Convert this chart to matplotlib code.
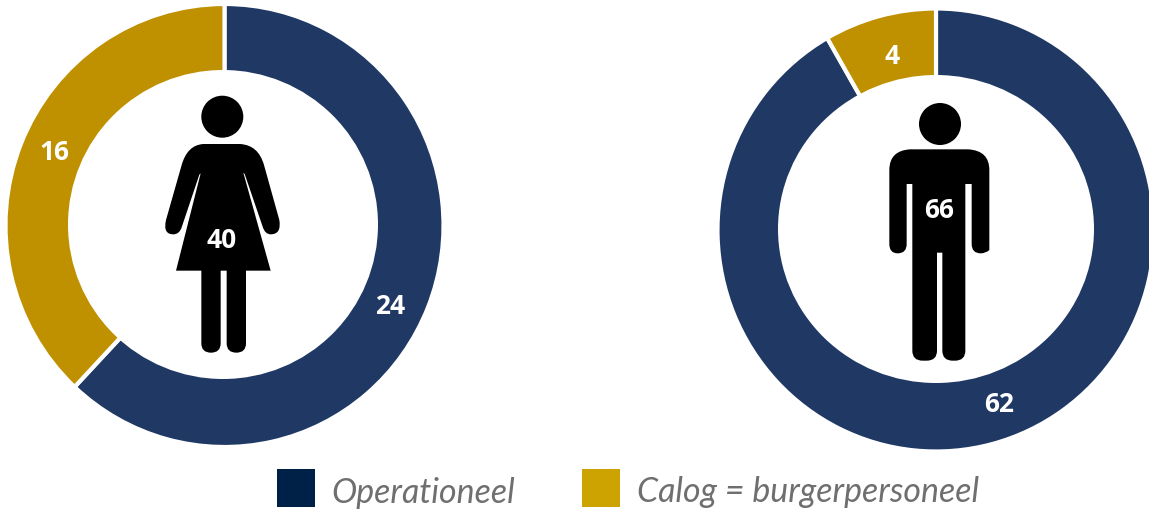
import matplotlib
matplotlib.use("Agg")
import matplotlib.pyplot as plt
from matplotlib.patches import Circle, Ellipse, PathPatch, Rectangle
from matplotlib.path import Path

W, H = 1149, 509

# labels as printed, arc shares as measured off the rings
women_labels = ["24", "16"]
women_shares = [62.0, 38.0]
men_labels = ["62", "4"]
men_shares = [91.7, 8.3]
women_total = "40"
men_total = "66"
legend_names = ["Operationeel", "Calog = burgerpersoneel"]

NAVY, GOLD = "#1F3864", "#BF9000"
LEG_NAVY, LEG_GOLD = "#002147", "#CCA300"

fig = plt.figure(figsize=(W / 100, H / 100), dpi=100)


def donut(cx, cy, rx, ry, shares):
    ax = fig.add_axes([(cx - rx) / W, 1 - (cy + ry) / H, 2 * rx / W, 2 * ry / H])
    ax.pie(shares, colors=[NAVY, GOLD], startangle=90, counterclock=False, radius=1,
           wedgeprops=dict(width=0.36, edgecolor="white", linewidth=3))
    ax.set_aspect("auto")
    ax.set_xlim(-1, 1)
    ax.set_ylim(-1, 1)
    ax.patch.set_alpha(0)


donut(224.5, 225.5, 219, 221.5, women_shares)
donut(936, 230, 218.5, 221.5, men_shares)

# overlay in pixel coords for the icons, labels and legend
ov = fig.add_axes([0, 0, 1, 1])
ov.set_xlim(0, W)
ov.set_ylim(H, 0)
ov.axis("off")
ov.patch.set_alpha(0)

# holes are slightly off centre in the reference, so cut them here
ov.add_patch(Ellipse((223, 224.5), 310, 309, fc="white", ec="none"))
ov.add_patch(Ellipse((936, 229), 316, 308, fc="white", ec="none"))

M, L, C, Z = Path.MOVETO, Path.LINETO, Path.CURVE3, Path.CLOSEPOLY


def shape(steps, ox, oy):
    # steps traced on a 3x crop, ox/oy is the crop corner
    verts, codes = [], []
    for code, pts in steps:
        for p in pts:
            verts.append((ox + p[0] / 3, oy + p[1] / 3))
            codes.append(code)
    verts.append(verts[0])
    codes.append(Z)
    ov.add_patch(PathPatch(Path(verts, codes), fc="black", ec="none"))


# woman
ov.add_patch(Circle((222.3, 116.7), 21, fc="black", ec="none"))
shape([(M, [(190, 192)]), (L, [(300, 192)]), (C, [(355, 195), (372, 255)]),
       (L, [(418, 420)]), (C, [(425, 463), (392, 463)]), (C, [(375, 463), (368, 440)]),
       (L, [(314, 282), (310, 278), (392, 572), (108, 572), (182, 280), (178, 284)]),
       (L, [(125, 442)]), (C, [(118, 463), (100, 463)]), (C, [(68, 463), (78, 420)]),
       (L, [(125, 255)]), (C, [(142, 195), (190, 192)])], 140, 80)
shape([(M, [(184, 568)]), (L, [(242, 568), (242, 790)]), (C, [(242, 818), (213, 818)]),
       (C, [(184, 818), (184, 790)])], 140, 80)
shape([(M, [(260, 568)]), (L, [(318, 568), (318, 790)]), (C, [(318, 818), (289, 818)]),
       (C, [(260, 818), (260, 790)])], 140, 80)

# man
ov.add_patch(Circle((940, 124), 21, fc="black", ec="none"))
shape([(M, [(150, 178)]), (L, [(325, 178)]), (C, [(388, 182), (388, 240)]),
       (L, [(388, 480)]), (C, [(378, 490), (362, 490)]), (C, [(335, 490), (335, 462)]),
       (L, [(335, 282), (316, 282), (316, 782)]), (C, [(316, 812), (285, 812)]),
       (L, [(278, 812)]), (C, [(247, 812), (247, 782)]),
       (L, [(247, 488), (231, 488), (231, 782)]), (C, [(231, 812), (200, 812)]),
       (L, [(188, 812)]), (C, [(157, 812), (157, 782)]),
       (L, [(157, 282), (140, 282), (140, 462)]), (C, [(140, 490), (113, 490)]),
       (C, [(88, 490), (88, 462)]), (L, [(88, 240)]), (C, [(88, 182), (150, 178)])], 860, 90)

# ring labels
label_spots = [(women_labels[0], 390, 306), (women_labels[1], 54, 152), (women_total, 222, 240),
               (men_labels[0], 999, 404), (men_labels[1], 892, 56), (men_total, 939, 210)]
for txt, x, y in label_spots:
    ov.text(x, y, txt, color="white", fontsize=19, fontweight="bold", family="Open Sans",
            ha="center", va="center")

# legend
ov.add_patch(Rectangle((277, 469), 38, 38, fc=LEG_NAVY, ec="none"))
ov.add_patch(Rectangle((582, 469), 38, 38, fc=LEG_GOLD, ec="none"))
ov.text(331, 493, legend_names[0], color="#6F6F70", fontsize=24.4, style="italic", family="Lato",
        ha="left", va="center")
ov.text(637, 492, legend_names[1], color="#6F6F70", fontsize=24.4, style="italic", family="Lato",
        ha="left", va="center")

fig.savefig("out.png", dpi=100)
